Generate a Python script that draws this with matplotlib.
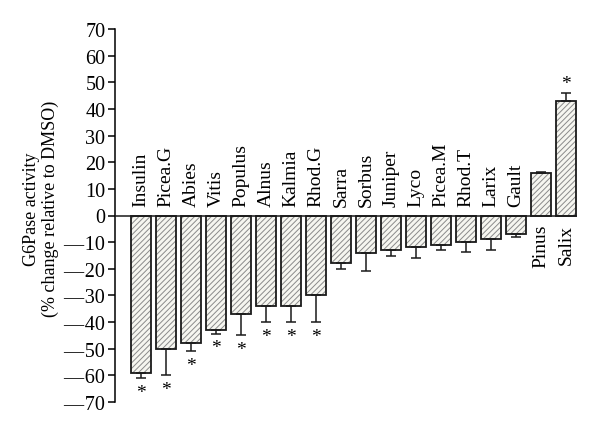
import numpy as np
import matplotlib
matplotlib.use('Agg')
import matplotlib.pyplot as plt

# data
names = ['Insulin', 'Picea.G', 'Abies', 'Vitis', 'Populus', 'Alnus', 'Kalmia',
         'Rhod.G', 'Sarra', 'Sorbus', 'Juniper', 'Lyco', 'Picea.M', 'Rhod.T',
         'Larix', 'Gault', 'Pinus', 'Salix']
values = [-59, -50, -48, -43, -37, -34, -34, -30, -18, -14, -13, -12, -11, -10,
          -9, -7, 16, 43]
errors = [2, 10, 3, 1.3, 8, 6, 6, 10, 2, 7, 2.2, 4, 2, 3.7, 3.8, 0.9, 0.5, 3]
signif = [True, True, True, True, True, True, True, True, False, False, False,
          False, False, False, False, False, False, True]
yticks = list(range(-70, 71, 10))

plt.rcParams['font.family'] = ['Liberation Serif', 'DejaVu Serif']
plt.rcParams['hatch.color'] = '#8a8a8a'
plt.rcParams['hatch.linewidth'] = 0.7

fig = plt.figure(figsize=(6.0, 4.35), dpi=100)
ax = fig.add_axes([115/600, 1 - 403/435, (577 - 115)/600, (403 - 30)/435])

x = np.arange(len(names))
vals = np.array(values)
errs = np.array(errors)

# hatched fill then black outline
ax.bar(x, vals, width=0.8, color='#f6f6f0', hatch='//////', linewidth=0, zorder=2)
ax.bar(x, vals, width=0.8, fill=False, edgecolor='#1a1a1a', linewidth=1.3, zorder=3)

# one-sided error bars (away from zero)
lower = np.where(vals < 0, errs, 0)
upper = np.where(vals > 0, errs, 0)
ax.errorbar(x, vals, yerr=[lower, upper], fmt='none', ecolor='#1a1a1a',
            elinewidth=1.1, capsize=3.5, capthick=1.1, zorder=4)

ax.axhline(0, color='#1a1a1a', linewidth=1.1, zorder=5)

for xi, v, e, s, n in zip(x, vals, errs, signif, names):
    if v < 0:
        ax.annotate(n, (xi, 0), xytext=(0, 6.5), textcoords='offset points',
                    rotation=90, ha='center', va='bottom', fontsize=14)
        if s:
            ax.annotate('*', (xi, v - e), xytext=(0, -4), textcoords='offset points',
                        ha='center', va='top', fontsize=14)
    else:
        ax.annotate(n, (xi, 0), xytext=(0, -6), textcoords='offset points',
                    rotation=90, ha='center', va='top', fontsize=14)
        if s:
            ax.annotate('*', (xi, v + e), xytext=(0, 1), textcoords='offset points',
                        ha='center', va='bottom', fontsize=14)

ax.set_xlim(-1.04, 17.44)
ax.set_ylim(-70, 70)
ax.set_yticks(yticks)
ax.set_yticklabels([('\u2014\u200a' + str(-t)) if t < 0 else str(t) for t in yticks],
                   fontsize=14.5)
ax.set_xticks([])
for side in ['top', 'right', 'bottom']:
    ax.spines[side].set_visible(False)
ax.spines['left'].set_linewidth(1.1)
ax.tick_params(axis='y', direction='out', length=5, width=1.1, pad=2)

ax.set_ylabel('G6Pase activity\n(% change relative to DMSO)', fontsize=13,
              linespacing=1.1)
ax.yaxis.set_label_coords(-0.122, 0.52)

plt.savefig('out.png', dpi=100)
